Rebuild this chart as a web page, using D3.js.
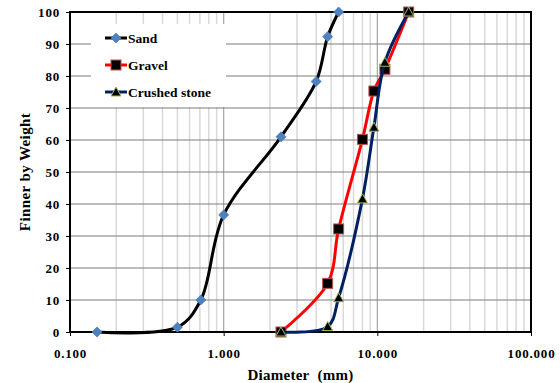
<!DOCTYPE html>
<html>
<head>
<meta charset="utf-8">
<script src="https://cdn.jsdelivr.net/npm/d3@7"></script>
<style>
  body { margin: 0; background: #fff; }
  svg text { font-family: "Liberation Serif", "Times New Roman", serif; font-weight: bold; fill: #000; }
</style>
</head>
<body>
<div id="chart"></div>
<script>
// sieve sizes (mm) and percent passing
const sandSize = [0.15, 0.5, 0.71, 1.0, 2.36, 4.0, 4.75, 5.6];
const sandPass = [0, 1.5, 10, 36.6, 61, 78.3, 92.3, 100];
const gravelSize = [2.36, 4.75, 5.6, 8.0, 9.5, 11.2, 16];
const gravelPass = [0, 15.2, 32.2, 60.2, 75.3, 82.1, 100];
const crushedSize = [2.36, 4.75, 5.6, 8.0, 9.5, 11.2, 16];
const crushedPass = [0, 1.7, 10.7, 41.6, 64, 84.3, 100];

const xTicks = [0.1, 1, 10, 100];
const yTicks = [0, 10, 20, 30, 40, 50, 60, 70, 80, 90, 100];

const width = 560, height = 383;
const margin = { top: 12, right: 29, bottom: 51, left: 70 };

const svg = d3.select("#chart").append("svg")
    .attr("width", width)
    .attr("height", height);

const x = d3.scaleLog().domain([0.1, 100]).range([margin.left, width - margin.right]);
const y = d3.scaleLinear().domain([0, 100]).range([height - margin.bottom, margin.top]);

// minor vertical grid (2..9 in each decade)
const minor = [];
[0.1, 1, 10].forEach(dec => { for (let k = 2; k <= 9; k++) minor.push(dec * k); });

svg.append("g").selectAll("line")
    .data(minor)
    .join("line")
    .attr("x1", d => x(d)).attr("x2", d => x(d))
    .attr("y1", y(0)).attr("y2", y(100))
    .attr("stroke", "#d9d9d9")
    .attr("stroke-width", 1.5);

svg.append("g").selectAll("line")
    .data(xTicks.slice(1, -1))
    .join("line")
    .attr("x1", d => x(d)).attr("x2", d => x(d))
    .attr("y1", y(0)).attr("y2", y(100))
    .attr("stroke", "#a6a6a6")
    .attr("stroke-width", 1.2);

svg.append("g").selectAll("line")
    .data(yTicks.slice(1, -1))
    .join("line")
    .attr("x1", x(0.1)).attr("x2", x(100))
    .attr("y1", d => y(d)).attr("y2", d => y(d))
    .attr("stroke", "#7f7f7f")
    .attr("stroke-width", 1.2);

// legend background box hides grid behind it
svg.append("rect")
    .attr("x", 91).attr("y", 24)
    .attr("width", 135).attr("height", 83)
    .attr("fill", "#fff");

// axes
const yAxis = svg.append("g")
    .attr("transform", `translate(${margin.left},0)`)
    .call(d3.axisLeft(y).tickValues(yTicks).tickSize(4).tickPadding(6));
yAxis.select(".domain").remove();
yAxis.selectAll("text").style("font-size", "13px").style("letter-spacing", "0.8px");

const xAxis = svg.append("g")
    .attr("transform", `translate(0,${height - margin.bottom})`)
    .call(d3.axisBottom(x).tickValues(xTicks).tickFormat(d3.format(".3f")).tickSize(4).tickPadding(13));
xAxis.select(".domain").remove();
xAxis.selectAll("text").style("font-size", "13px").style("letter-spacing", "0.8px");

// plot frame
svg.append("rect")
    .attr("x", x(0.1)).attr("y", y(100))
    .attr("width", x(100) - x(0.1)).attr("height", y(0) - y(100))
    .attr("fill", "none")
    .attr("stroke", "#000")
    .attr("stroke-width", 2);

// axis titles
svg.append("text")
    .attr("x", (x(0.1) + x(100)) / 2)
    .attr("y", 380)
    .attr("text-anchor", "middle")
    .style("font-size", "15px")
    .style("letter-spacing", "0.25px")
    .text("Diameter\u00a0 (mm)");

svg.append("text")
    .attr("transform", `translate(30,${(y(0) + y(100)) / 2}) rotate(-90)`)
    .attr("text-anchor", "middle")
    .style("font-size", "15px")
    .style("letter-spacing", "0.4px")
    .text("Finner by Weight");

const line = d3.line()
    .x(d => x(d[0]))
    .y(d => y(d[1]))
    .curve(d3.curveCatmullRom.alpha(0.5));

const series = [
    { name: "Sand", size: sandSize, pass: sandPass, color: "#000000", marker: "diamond" },
    { name: "Gravel", size: gravelSize, pass: gravelPass, color: "#ff0000", marker: "square" },
    { name: "Crushed stone", size: crushedSize, pass: crushedPass, color: "#002060", marker: "triangle" }
];

function drawMarker(g, type, cx, cy) {
    if (type === "diamond") {
        g.append("path")
            .attr("d", `M${cx},${cy - 5}L${cx + 5},${cy}L${cx},${cy + 5}L${cx - 5},${cy}Z`)
            .attr("fill", "#4f81bd")
            .attr("stroke", "#4a7ebb")
            .attr("stroke-width", 0.8);
    } else if (type === "square") {
        g.append("rect")
            .attr("x", cx - 5).attr("y", cy - 5)
            .attr("width", 10).attr("height", 10)
            .attr("fill", "#000")
            .attr("stroke", "#c0504d")
            .attr("stroke-width", 1);
    } else {
        g.append("path")
            .attr("d", `M${cx},${cy - 5}L${cx + 5},${cy + 4}L${cx - 5},${cy + 4}Z`)
            .attr("fill", "#000")
            .attr("stroke", "#9bbb59")
            .attr("stroke-width", 1);
    }
}

series.forEach(s => {
    const pts = s.size.map((d, i) => [d, s.pass[i]]);
    const g = svg.append("g");
    g.append("path")
        .attr("d", line(pts))
        .attr("fill", "none")
        .attr("stroke", s.color)
        .attr("stroke-width", 3);
    pts.forEach(p => drawMarker(g, s.marker, x(p[0]), y(p[1])));
});

// legend
const legend = svg.append("g");
series.forEach((s, i) => {
    const ly = 38 + i * 27;
    legend.append("line")
        .attr("x1", 105).attr("x2", 127)
        .attr("y1", ly).attr("y2", ly)
        .attr("stroke", s.color)
        .attr("stroke-width", 3);
    drawMarker(legend, s.marker, 116, ly);
    legend.append("text")
        .attr("x", 128)
        .attr("y", ly + 4.5)
        .style("font-size", "13.5px")
        .text(s.name);
});
</script>
</body>
</html>
